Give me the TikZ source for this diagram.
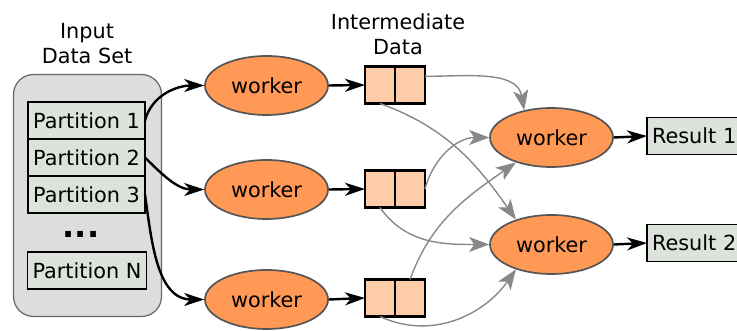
\documentclass[tikz,border=0pt]{standalone}
\usepackage{fontspec}
\setmainfont{DejaVu Sans}
\usetikzlibrary{arrows.meta,positioning,shapes.geometric}

\definecolor{workerfill}{HTML}{FF9955}
\definecolor{workeredge}{HTML}{555555}
\definecolor{partfill}{HTML}{DCE3DA}
\definecolor{setfill}{HTML}{DDDDDD}
\definecolor{setedge}{HTML}{666666}
\definecolor{midfill}{HTML}{FFCCAA}
\definecolor{shufflegrey}{HTML}{888888}

\tikzset{
  worker/.style={ellipse, draw=workeredge, line width=1.7pt, fill=workerfill,
    minimum width=123pt, minimum height=59pt, inner sep=0pt},
  databox/.style={draw=black, line width=1.4pt, fill=partfill,
    minimum height=37pt, inner sep=0pt, inner xsep=5pt, outer sep=0pt},
  partbox/.style={databox, minimum width=117pt},
  resbox/.style={databox, anchor=west, text width=92pt},
  midbox/.style={draw=black, line width=2.2pt, fill=midfill,
    minimum width=30pt, minimum height=37pt, inner sep=0pt, outer sep=0pt},
  feed/.style={-{Stealth[length=20pt,width=13pt,inset=6pt]}, line width=2.4pt},
  shuffle/.style={-{Stealth[length=20pt,width=15pt,inset=5pt]}, draw=shufflegrey, line width=1.4pt},
}

\begin{document}
\begin{tikzpicture}[x=1pt, y=1pt, font=\fontsize{20.8}{25}\selectfont]
  \useasboundingbox (0,0) rectangle (737,331);
  \clip (0,0) rectangle (737,331);

  % input data set
  \node[draw=setedge, line width=1.2pt, fill=setfill, rounded corners=20pt,
        minimum width=148pt, minimum height=242pt] (dataset) at (87.5,135.5) {};
  \node[align=center] (inlabel) at (87,287) {Input\\Data Set};
  \node[partbox] (p1) at (86.5,210.5) {Partition 1};
  \node[partbox, below=0pt of p1] (p2) {Partition 2};
  \node[partbox, below=0pt of p2] (p3) {Partition 3};
  \node[font=\fontsize{32}{32}\bfseries\selectfont] (dots) at (81,97) {...};
  \node[partbox] (pn) at (87,60.5) {Partition N};

  % map workers
  \node[worker] (w1) at (266.5,245.5) {worker};
  \node[worker] (w2) at (266.5,141.5) {worker};
  \node[worker] (w3) at (266.5,31.5) {worker};

  \draw[feed] (p1.east) to[out=75, in=180] (w1.west);
  \draw[feed] (p2.east) to[out=-45, in=180] (w2.west);
  \draw[feed] (p3.east) to[out=-82, in=180] (w3.west);

  % intermediate data
  \node[align=center] (midlabel) at (398,297) {Intermediate\\Data};
  \node[midbox] (m1a) at (380,246) {};
  \node[midbox, right=0pt of m1a] (m1b) {};
  \node[midbox] (m2a) at (380,142) {};
  \node[midbox, right=0pt of m2a] (m2b) {};
  \node[midbox] (m3a) at (380,33) {};
  \node[midbox, right=0pt of m3a] (m3b) {};

  \draw[feed] (w1.east) -- (m1a.west);
  \draw[feed] (w2.east) -- (m2a.west);
  \draw[feed] (w3.east) -- (m3a.west);

  % reduce workers
  \node[worker] (r1) at (551.5,193.5) {worker};
  \node[worker] (r2) at (551.5,86.5) {worker};

  \draw[shuffle] (m1b.30) to[out=0, in=100] (r1.135);
  \draw[shuffle] (m1a.south) to[out=-20, in=125] (r2.145);
  \draw[shuffle] (m2b.east) to[out=75, in=180] (r1.west);
  \draw[shuffle] (m2a.south) to[out=-55, in=180] (r2.west);
  \draw[shuffle] (m3b.north) to[out=70, in=215] (r1.215);
  \draw[shuffle] (m3a.south) to[out=-25, in=235] (r2.215);

  % results
  \node[resbox] (res1) at (647,195) {Result 1};
  \node[resbox] (res2) at (647,88) {Result 2};

  \draw[feed] (r1.east) -- (res1.west);
  \draw[feed] (r2.east) -- (res2.west);
\end{tikzpicture}
\end{document}
